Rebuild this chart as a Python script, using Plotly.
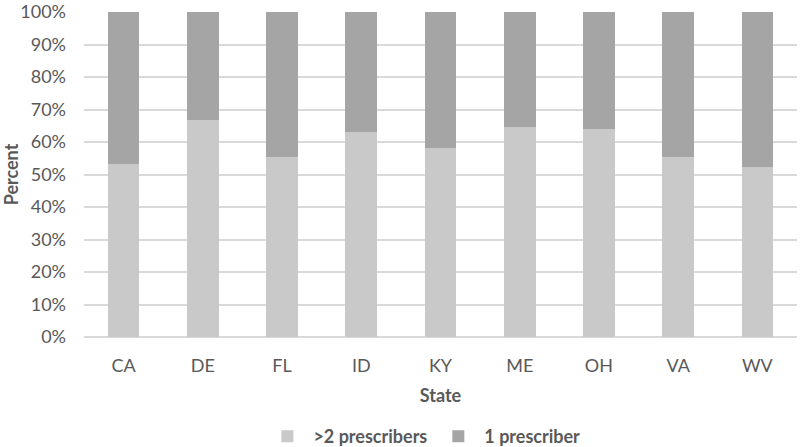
import plotly.graph_objects as go

states = ["CA", "DE", "FL", "ID", "KY", "ME", "OH", "VA", "WV"]
multi = [53.1, 66.8, 55.5, 63.0, 58.2, 64.7, 63.9, 55.5, 52.2]
single = [100 - v for v in multi]
yticks = list(range(0, 101, 10))
ytick_text = [f"{v}%" for v in yticks]

font_family = "Lato, Open Sans, sans-serif"
text_color = "#595959"

fig = go.Figure()
fig.add_trace(go.Bar(x=states, y=multi, name="<b>>2 prescribers</b>",
                     marker=dict(color="#c9c9c9", line=dict(width=0))))
fig.add_trace(go.Bar(x=states, y=single, name="<b>1 prescriber</b>",
                     marker=dict(color="#a5a5a5", line=dict(width=0))))

fig.update_layout(
    barmode="stack",
    bargap=0.6,
    width=800, height=447,
    margin=dict(l=84, r=3, t=12, b=110, autoexpand=False),
    plot_bgcolor="white", paper_bgcolor="white",
    font=dict(family=font_family, color=text_color, size=18),
    showlegend=True,
    legend=dict(orientation="h", x=0.476, xanchor="center", y=-0.306, yanchor="middle",
                font=dict(size=18, color=text_color, family=font_family),
                traceorder="normal", itemwidth=42),
    xaxis=dict(title=dict(text="<b>State</b>", font=dict(size=18), standoff=14),
               tickfont=dict(size=18), showgrid=False, showline=False,
               ticklabelstandoff=16, automargin=False),
    yaxis=dict(title=dict(text="<b>Percent</b>", font=dict(size=18), standoff=8),
               range=[0, 100], tickvals=yticks, ticktext=ytick_text,
               tickfont=dict(size=18), gridcolor="#d9d9d9", gridwidth=1.5,
               zeroline=True, zerolinecolor="#d9d9d9", zerolinewidth=1.5,
               showline=False, ticklabelstandoff=17, automargin=False,
               ticklabeloverflow="allow"),
)
fig.write_html("out.html", config={"displayModeBar": False},
               post_script="document.body.style.margin='0';")
